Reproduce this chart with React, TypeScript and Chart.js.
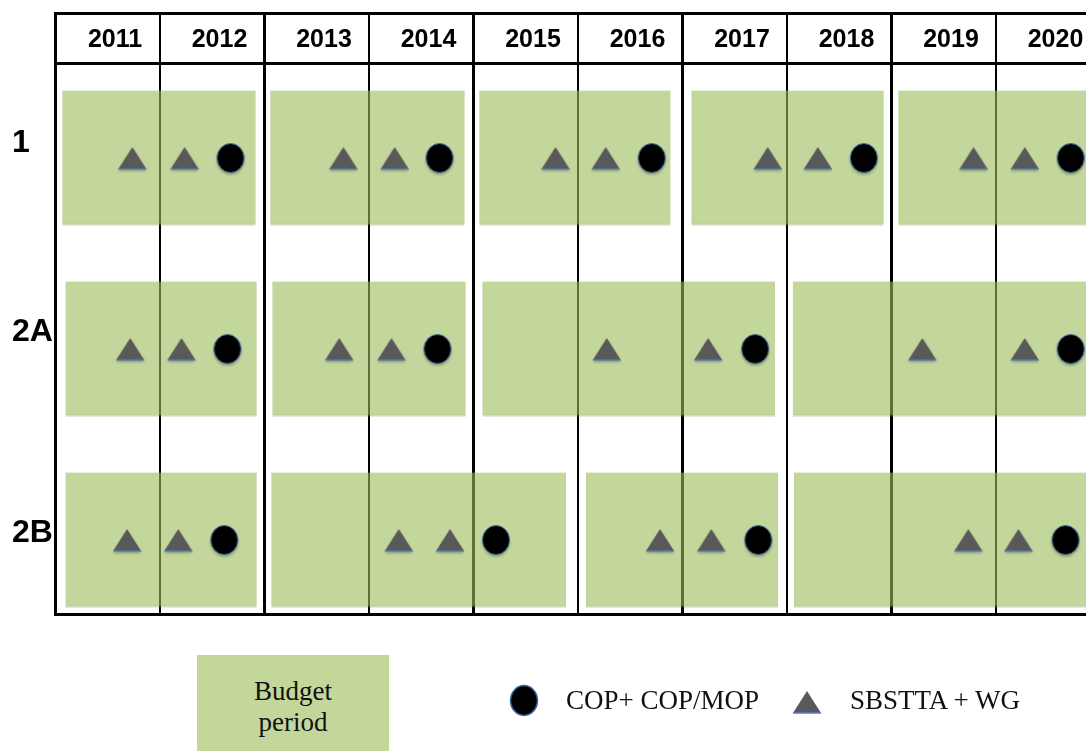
import React, { useEffect, useRef } from 'react';
import { Chart, registerables } from 'chart.js';

Chart.register(...registerables);

// ---- data ----
const yearTicks = [2011, 2012, 2013, 2014, 2015, 2016, 2017, 2018, 2019, 2020];
const yearLabels = ['2011', '2012', '2013', '2014', '2015', '2016', '2017', '2018', '2019', '2020'];
const rowLabels = ['1', '2A', '2B'];
const rowLabelPos = [-0.08, 0.91, 1.966];

// budget periods [start, end] per row
const budgetRow1 = [[2011.07, 2012.92], [2013.06, 2014.92], [2015.06, 2016.89], [2017.09, 2018.93], [2019.07, 2021.0]];
const budgetRow2A = [[2011.1, 2012.93], [2013.08, 2014.93], [2015.09, 2017.89], [2018.06, 2021.0]];
const budgetRow2B = [[2011.1, 2012.93], [2013.07, 2015.89], [2016.08, 2017.92], [2018.07, 2021.0]];

// SBSTTA + WG meetings (triangles)
const sbsttaRow1 = [2011.74, 2012.24, 2013.76, 2014.25, 2015.79, 2016.27, 2017.82, 2018.3, 2019.79, 2020.28];
const sbsttaRow2A = [2011.72, 2012.21, 2013.72, 2014.22, 2016.28, 2017.25, 2019.3, 2020.28];
const sbsttaRow2B = [2011.69, 2012.18, 2014.29, 2014.78, 2016.79, 2017.28, 2019.74, 2020.22];

// COP + COP/MOP meetings (circles)
const copRow1 = [2012.68, 2014.68, 2016.71, 2018.74, 2020.72];
const copRow2A = [2012.65, 2014.66, 2017.7, 2020.72];
const copRow2B = [2012.62, 2015.22, 2017.73, 2020.67];

const budgetRows = [budgetRow1, budgetRow2A, budgetRow2B];
const sbsttaRows = [sbsttaRow1, sbsttaRow2A, sbsttaRow2B];
const copRows = [copRow1, copRow2A, copRow2B];

function makeTriangle(): HTMLCanvasElement {
  const c = document.createElement('canvas');
  c.width = 34;
  c.height = 32;
  const ctx = c.getContext('2d')!;
  ctx.save();
  ctx.shadowColor = 'rgba(0,0,0,0.3)';
  ctx.shadowBlur = 3;
  ctx.shadowOffsetY = 2;
  ctx.beginPath();
  ctx.moveTo(17, 5);
  ctx.lineTo(31, 27);
  ctx.lineTo(3, 27);
  ctx.closePath();
  ctx.fillStyle = '#595959';
  ctx.fill();
  ctx.restore();
  ctx.beginPath();
  ctx.moveTo(3, 27);
  ctx.lineTo(31, 27);
  ctx.strokeStyle = '#4f81bd';
  ctx.lineWidth = 1.3;
  ctx.stroke();
  return c;
}

function makeCircle(): HTMLCanvasElement {
  const c = document.createElement('canvas');
  c.width = 34;
  c.height = 36;
  const ctx = c.getContext('2d')!;
  ctx.save();
  ctx.shadowColor = 'rgba(0,0,0,0.3)';
  ctx.shadowBlur = 3;
  ctx.shadowOffsetY = 2;
  ctx.beginPath();
  ctx.ellipse(17, 18, 13.5, 14.5, 0, 0, Math.PI * 2);
  ctx.fillStyle = '#000';
  ctx.fill();
  ctx.restore();
  ctx.beginPath();
  ctx.ellipse(17, 18, 13.5, 14.5, 0, 0, Math.PI * 2);
  ctx.strokeStyle = '#3a6aa5';
  ctx.lineWidth = 1;
  ctx.stroke();
  return c;
}

const serif = '"Liberation Serif", "Times New Roman", serif';

const noSidePadding = (s: any, h: number) => {
  s.height = h;
  s.paddingLeft = 0;
  s.paddingRight = 0;
};

export default function App() {
  const ref = useRef<HTMLCanvasElement | null>(null);

  useEffect(() => {
    if (!ref.current) return;
    const budgetData = budgetRows.flatMap((row, r) => row.map(([s, e]) => ({ x: [s, e], y: r })));
    const triData = sbsttaRows.flatMap((row, r) => row.map((v) => ({ x: v, y: r })));
    const circData = copRows.flatMap((row, r) => row.map((v) => ({ x: v, y: r })));
    const tri = makeTriangle();
    const circ = makeCircle();

    const yMin = -0.4974;
    const yMax = 2.3874;

    const chart = new Chart(ref.current, {
      type: 'scatter',
      data: {
        datasets: [
          {
            type: 'bar',
            label: 'Budget period',
            indexAxis: 'y',
            data: budgetData as any,
            backgroundColor: 'rgba(155,187,89,0.6)',
            borderColor: 'rgba(120,150,70,0.35)',
            borderWidth: { top: 0, left: 0, right: 0, bottom: 2 },
            borderSkipped: false,
            barThickness: 135,
            xAxisID: 'x',
            yAxisID: 'y',
            order: 2,
          } as any,
          {
            type: 'scatter',
            label: 'SBSTTA + WG',
            data: triData,
            pointStyle: tri,
            pointRadius: 14,
            pointHoverRadius: 14,
            xAxisID: 'x',
            yAxisID: 'y',
            order: 1,
          } as any,
          {
            type: 'scatter',
            label: 'COP+ COP/MOP',
            data: circData,
            pointStyle: circ,
            pointRadius: 14,
            pointHoverRadius: 14,
            xAxisID: 'x',
            yAxisID: 'y',
            order: 0,
          } as any,
        ],
      },
      options: {
        animation: false,
        responsive: false,
        devicePixelRatio: 1,
        events: [],
        layout: { autoPadding: false, padding: { top: 13, left: 12, right: 0, bottom: 137 } },
        plugins: { legend: { display: false }, tooltip: { enabled: false } },
        scales: {
          x: {
            type: 'linear',
            position: 'top',
            min: 2011,
            max: 2020.866,
            offset: false,
            beginAtZero: false,
            weight: 0,
            afterBuildTicks: (s: any) => {
              s.ticks = yearTicks.map((v) => ({ value: v }));
            },
            afterFit: (s: any) => noSidePadding(s, 50),
            grid: {
              color: '#000',
              lineWidth: (c: any) => (c.index % 2 === 0 ? 3 : 2),
              drawTicks: true,
              tickLength: 50,
              offset: false,
            },
            border: { display: true, color: '#000', width: 3 },
            ticks: {
              padding: -42,
              labelOffset: 60,
              maxRotation: 0,
              autoSkip: false,
              color: '#000',
              font: { family: '"Liberation Sans", Arial, sans-serif', size: 25, weight: 'bold' },
              callback: (_v: any, i: number) => yearLabels[i],
            },
          },
          xTop: {
            type: 'linear',
            axis: 'x',
            position: 'top',
            min: 2011,
            max: 2020.866,
            weight: 1,
            offset: false,
            afterFit: (s: any) => noSidePadding(s, 0),
            grid: { display: false, drawTicks: false, offset: false },
            border: { display: true, color: '#000', width: 3 },
            ticks: { display: false },
          },
          xBottom: {
            type: 'linear',
            axis: 'x',
            position: 'bottom',
            min: 2011,
            max: 2020.866,
            offset: false,
            afterFit: (s: any) => noSidePadding(s, 0),
            grid: { display: false, drawTicks: false, offset: false },
            border: { display: true, color: '#000', width: 3 },
            ticks: { display: false },
          },
          y: {
            type: 'linear',
            reverse: true,
            min: yMin,
            max: yMax,
            offset: false,
            beginAtZero: false,
            afterBuildTicks: (s: any) => {
              s.ticks = rowLabelPos.map((v) => ({ value: v }));
            },
            afterFit: (s: any) => {
              s.width = 43;
              s.paddingTop = 0;
              s.paddingBottom = 0;
            },
            grid: { display: false, drawTicks: false, offset: false },
            border: { display: true, color: '#000', width: 3 },
            ticks: {
              crossAlign: 'far',
              padding: 0,
              autoSkip: false,
              color: '#000',
              font: { family: '"Liberation Sans", Arial, sans-serif', size: 32, weight: 'bold' },
              callback: (_v: any, i: number) => rowLabels[i],
            },
          },
        } as any,
      },
    });
    return () => chart.destroy();
  }, []);

  const legendText: React.CSSProperties = {
    position: 'absolute',
    fontFamily: serif,
    fontSize: 27,
    lineHeight: '31px',
    color: '#111',
    whiteSpace: 'nowrap',
  };

  return (
    <div style={{ position: 'fixed', left: 0, top: 0, width: 1086, height: 751, background: '#fff', overflow: 'hidden' }}>
      <canvas ref={ref} width={1086} height={751} style={{ position: 'absolute', left: 0, top: 0 }} />
      <div
        style={{
          position: 'absolute',
          left: 197,
          top: 655,
          width: 192,
          height: 100,
          background: '#c4d79b',
          boxSizing: 'border-box',
          paddingTop: 21,
          textAlign: 'center',
          fontFamily: serif,
          fontSize: 27,
          lineHeight: '31px',
          color: '#111',
        }}
      >
        Budget
        <br />
        period
      </div>
      <svg style={{ position: 'absolute', left: 508, top: 683 }} width={32} height={36}>
        <ellipse cx={16} cy={17.5} rx={13.5} ry={15} fill="#000" stroke="#3a6aa5" strokeWidth={1.5} />
      </svg>
      <div style={{ ...legendText, left: 566, top: 685 }}>COP+ COP/MOP</div>
      <svg style={{ position: 'absolute', left: 791, top: 689 }} width={32} height={28}>
        <polygon points="16,2 30,24 2,24" fill="#595959" />
        <line x1={2} y1={24} x2={30} y2={24} stroke="#4f81bd" strokeWidth={1.5} />
      </svg>
      <div style={{ ...legendText, left: 850, top: 685 }}>SBSTTA + WG</div>
    </div>
  );
}
